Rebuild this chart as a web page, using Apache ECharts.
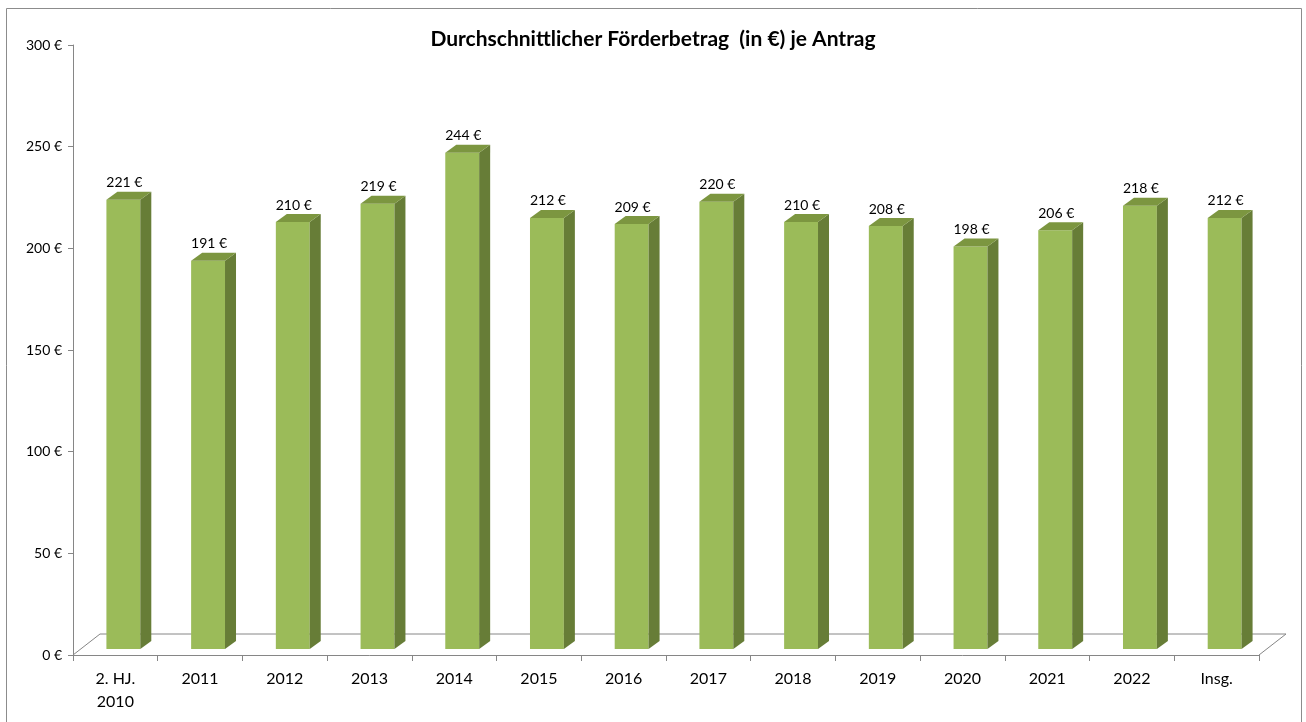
<!DOCTYPE html>
<html>
<head>
<meta charset="utf-8">
<title>Durchschnittlicher Förderbetrag</title>
<script src="https://cdn.jsdelivr.net/npm/echarts@6/dist/echarts.min.js"></script>
<style>
  html, body { margin: 0; padding: 0; background: #fff; }
  #main { width: 1306px; height: 722px; }
</style>
</head>
<body>
<div id="main"></div>
<script>
const categories = ['2. HJ.\n2010', '2011', '2012', '2013', '2014', '2015', '2016',
  '2017', '2018', '2019', '2020', '2021', '2022', 'Insg.'];
const amounts = [221, 191, 210, 219, 244, 212, 209, 220, 210, 208, 198, 206, 218, 212];
const yTicks = { min: 0, max: 300, interval: 50 };

const FONT = 'Lato, "Open Sans", sans-serif';
const GRAY = '#868686';
// 3D look, in pixels
const FLOOR_DX = 27, FLOOR_DY = -21;
const BAR_DX = 8, BAR_DY = -6;       // how far the bar front sits into the floor
const DEPTH_DX = 11, DEPTH_DY = -8;  // bar depth

function renderFloor(params, api) {
  const bw = api.size([1, 0])[0];
  const first = api.coord([0, 0]);
  const last = api.coord([categories.length - 1, 0]);
  const x0 = first[0] - bw / 2, x1 = last[0] + bw / 2, y = first[1];
  return {
    type: 'polyline',
    shape: {
      points: [[x0, y], [x0 + FLOOR_DX, y + FLOOR_DY], [x1 + FLOOR_DX, y + FLOOR_DY], [x1, y]]
    },
    style: { stroke: GRAY, lineWidth: 1, fill: null }
  };
}

function renderBar(params, api) {
  const idx = api.value(0);
  const val = api.value(1);
  const top = api.coord([idx, val]);
  const base = api.coord([idx, 0]);
  const bw = api.size([1, 0])[0];
  const w = bw * 0.40;
  const l = top[0] - w / 2 + BAR_DX, r = l + w;
  const t = top[1] + BAR_DY, b = base[1] + BAR_DY;
  return {
    type: 'group',
    children: [
      { type: 'rect', shape: { x: l, y: t, width: w, height: b - t },
        style: { fill: '#9bbb59' } },
      { type: 'polygon', shape: { points: [[r, t], [r + DEPTH_DX, t + DEPTH_DY], [r + DEPTH_DX, b + DEPTH_DY], [r, b]] },
        style: { fill: '#677d37' } },
      { type: 'polygon', shape: { points: [[l, t], [l + DEPTH_DX, t + DEPTH_DY], [r + DEPTH_DX, t + DEPTH_DY], [r, t]] },
        style: { fill: '#7c9640' } },
      { type: 'text', x: l + w / 2 + 1, y: t + DEPTH_DY - 2,
        style: { text: val + ' €', fill: '#000', font: '14px ' + FONT, align: 'center', verticalAlign: 'bottom' } }
    ]
  };
}

const chart = echarts.init(document.getElementById('main'));
chart.setOption({
  animation: false,
  backgroundColor: '#fff',
  title: {
    text: 'Durchschnittlicher Förderbetrag  (in €) je Antrag',
    left: 'center', top: 24,
    textStyle: { fontFamily: FONT, fontWeight: 'bold', fontSize: 21, color: '#000' }
  },
  graphic: [{
    type: 'rect', shape: { x: 6.5, y: 8.5, width: 1295, height: 730 },
    style: { fill: null, stroke: '#8c8c8c', lineWidth: 1 }, silent: true
  }],
  grid: { left: 73, right: 47, top: 45, bottom: 67 },
  xAxis: {
    type: 'category',
    data: categories,
    boundaryGap: true,
    axisLine: { lineStyle: { color: GRAY } },
    axisTick: { show: true, length: 6, lineStyle: { color: GRAY } },
    axisLabel: { color: '#000', fontFamily: FONT, fontSize: 16, margin: 12, lineHeight: 23 }
  },
  yAxis: {
    type: 'value',
    min: yTicks.min, max: yTicks.max, interval: yTicks.interval,
    axisLine: { show: true, lineStyle: { color: GRAY } },
    axisTick: { show: true, length: 5, lineStyle: { color: GRAY } },
    splitLine: { show: false },
    axisLabel: { color: '#000', fontFamily: FONT, fontSize: 14, margin: 11, formatter: '{value} €' }
  },
  series: [
    { type: 'custom', renderItem: renderFloor, data: [[0, 0]], silent: true, z: 1 },
    { type: 'custom', renderItem: renderBar, data: amounts.map((v, i) => [i, v]), z: 2 }
  ]
});
</script>
</body>
</html>
